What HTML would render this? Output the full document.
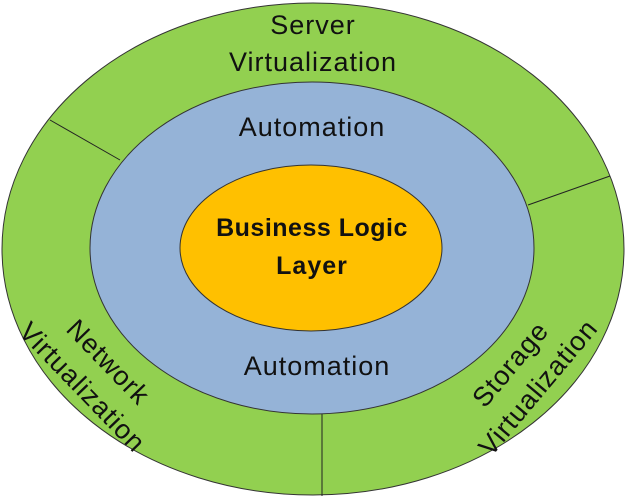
<!DOCTYPE html>
<html><head><style>html,body{margin:0;padding:0;background:#fff;}svg{display:block}</style></head>
<body>
<svg width="626" height="498" viewBox="0 0 626 498" xmlns="http://www.w3.org/2000/svg" font-family="'Liberation Sans', sans-serif">
<ellipse cx="313" cy="249" rx="311" ry="246" fill="#92D050" stroke="#333" stroke-width="1"/>
<line x1="50" y1="120" x2="120" y2="160" stroke="#222" stroke-width="1"/>
<line x1="528" y1="205" x2="610" y2="176" stroke="#222" stroke-width="1"/>
<line x1="322" y1="412" x2="322" y2="496" stroke="#222" stroke-width="1"/>
<ellipse cx="312" cy="248" rx="222" ry="166" fill="#95B3D7" stroke="#333" stroke-width="1"/>
<ellipse cx="311" cy="248" rx="131" ry="83" fill="#FFC000" stroke="#333" stroke-width="1"/>
<g font-size="27" fill="#111" text-anchor="middle" letter-spacing="1">
<text x="313" y="34">Server</text>
<text x="313" y="71">Virtualization</text>
<text x="312" y="136">Automation</text>
<text x="317" y="375">Automation</text>
<text x="312" y="236" font-weight="bold" font-size="25" letter-spacing="0.5">Business Logic</text>
<text x="312" y="274" font-weight="bold" font-size="25">Layer</text>
<g transform="translate(96,374) rotate(46)">
<text x="0" y="-8">Network</text>
<text x="0" y="28">Virtualization</text>
</g>
<g transform="translate(522,374) rotate(-50)">
<text x="0" y="-6">Storage</text>
<text x="0" y="30">Virtualization</text>
</g>
</g>
</svg>
</body></html>
